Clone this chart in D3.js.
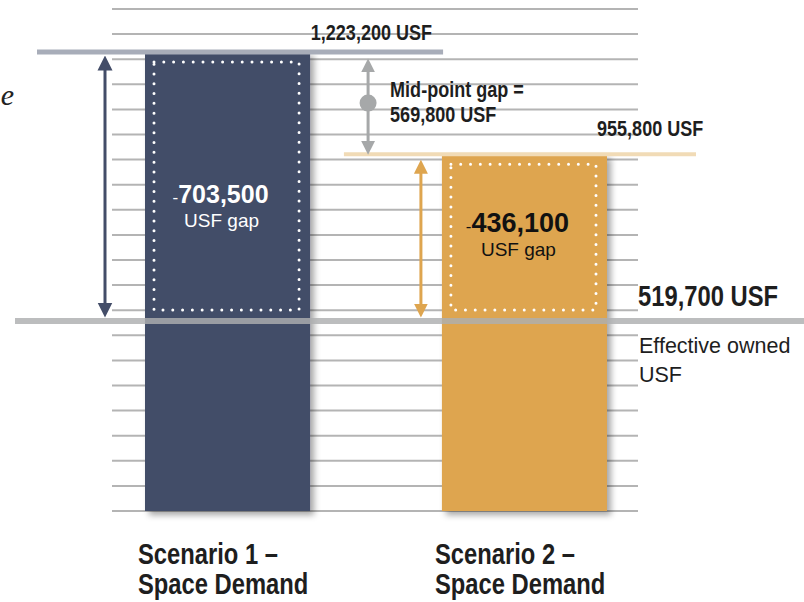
<!DOCTYPE html>
<html>
<head>
<meta charset="utf-8">
<script src="https://cdn.jsdelivr.net/npm/d3@7"></script>
<style>
body { margin: 0; background: #fff; }
svg { display: block; }
.narrow { font-family: "Liberation Sans", Arial, sans-serif; font-weight: bold; fill: #1e1e1e; }
.plain { font-family: "Liberation Sans", Arial, sans-serif; }
</style>
</head>
<body>
<script>
// SVG size
var width = 804,
	height = 602;

// Data
var scenarios = ["Scenario 1", "Scenario 2"];
var scenarioTitles = [["Scenario 1 –", "Space Demand"], ["Scenario 2 –", "Space Demand"]];
var demandUSF = [1223200, 955800];
var gapUSF = [-703500, -436100];
var ownedUSF = 519700;
var midpointGapUSF = 569800;
var ownedNote = ["Effective owned", "USF"];
var barColors = ["#434d68", "#dea54f"];
var gapTextColors = ["#ffffff", "#111111"];

var fmt = d3.format(",");

var svg = d3.select("body").append("svg")
	.attr("width", width)
	.attr("height", height);

var defs = svg.append("defs");

// soft drop shadow for bars
var shadow = defs.append("filter")
	.attr("id", "shadow")
	.attr("x", "-10%").attr("y", "-10%")
	.attr("width", "130%").attr("height", "130%");
shadow.append("feDropShadow")
	.attr("dx", 4).attr("dy", 4)
	.attr("stdDeviation", 3)
	.attr("flood-color", "#000")
	.attr("flood-opacity", 0.35);

// Scales
var x = d3.scaleBand()
	.domain(scenarios)
	.range([145, 607])
	.paddingInner(0.444)
	.paddingOuter(0);

var y = d3.scaleLinear()
	.domain([0, ownedUSF, demandUSF[0]])
	.range([511, 321, 52]);

var bw = x.bandwidth();

// condensed bold text (no narrow font installed, so squeeze it)
function narrowText(xPos, yPos, size, lines, anchor, lineHeight) {
	var g = svg.append("g")
		.attr("transform", "translate(" + xPos + "," + yPos + ") scale(0.82,1)");
	var t = g.append("text")
		.attr("class", "narrow")
		.attr("font-size", size)
		.attr("text-anchor", anchor || "start");
	lines.forEach(function(line, k) {
		t.append("tspan").attr("x", 0).attr("y", k * (lineHeight || 0)).text(line);
	});
	return t;
}

// ruled background lines
svg.append("g")
	.attr("class", "rules")
	.selectAll("line")
	.data(d3.range(21))
	.enter()
	.append("line")
	.attr("x1", 112)
	.attr("x2", 638)
	.attr("y1", function(i) { return 9 + i * 25.1; })
	.attr("y2", function(i) { return 9 + i * 25.1; })
	.attr("stroke", "#b4b4b4")
	.attr("stroke-width", 2);

// Bars
svg.selectAll("rect.bar")
	.data(scenarios)
	.enter()
	.append("rect")
	.attr("class", "bar")
	.attr("x", function(d) { return x(d); })
	.attr("y", function(d, i) { return y(demandUSF[i]); })
	.attr("width", bw)
	.attr("height", function(d, i) { return y(0) - y(demandUSF[i]); })
	.attr("fill", function(d, i) { return barColors[i]; })
	.attr("filter", "url(#shadow)");

// dotted gap boxes
svg.selectAll("rect.gapbox")
	.data(scenarios)
	.enter()
	.append("rect")
	.attr("class", "gapbox")
	.attr("x", function(d) { return x(d) + 9; })
	.attr("y", function(d, i) { return y(demandUSF[i]) + 10; })
	.attr("width", bw - 20)
	.attr("height", function(d, i) { return y(ownedUSF) - y(demandUSF[i]) - 21; })
	.attr("fill", "none")
	.attr("stroke", "#fff")
	.attr("stroke-width", 3)
	.attr("stroke-linecap", "round")
	.attr("stroke-dasharray", "0 9.8");

// owned line
svg.append("line")
	.attr("x1", 15)
	.attr("x2", width)
	.attr("y1", y(ownedUSF))
	.attr("y2", y(ownedUSF))
	.attr("stroke", "#adafb0")
	.attr("stroke-opacity", 0.82)
	.attr("stroke-width", 6);

// demand level lines
var lineExtent = [[-108, 133], [-98, 89]];
var lineColors = ["#a8adb9", "#f1dbb6"];
svg.selectAll("line.demand")
	.data(scenarios)
	.enter()
	.append("line")
	.attr("class", "demand")
	.attr("x1", function(d, i) { return x(d) + lineExtent[i][0]; })
	.attr("x2", function(d, i) { return x(d) + bw + lineExtent[i][1]; })
	.attr("y1", function(d, i) { return y(demandUSF[i]); })
	.attr("y2", function(d, i) { return y(demandUSF[i]); })
	.attr("stroke", function(d, i) { return lineColors[i]; })
	.attr("stroke-width", function(d, i) { return i === 0 ? 5 : 4; });

// arrow heads
function addMarker(id, color, w, h) {
	defs.append("marker")
		.attr("id", id)
		.attr("viewBox", "0 0 10 10")
		.attr("refX", 1)
		.attr("refY", 5)
		.attr("markerUnits", "userSpaceOnUse")
		.attr("markerWidth", h)
		.attr("markerHeight", w)
		.attr("orient", "auto-start-reverse")
		.append("path")
		.attr("d", "M0,0 L10,5 L0,10 Z")
		.attr("fill", color);
}
addMarker("head-navy", "#434d68", 16, 15);
addMarker("head-gray", "#a6a8a9", 15, 14);
addMarker("head-orange", "#dea54f", 15, 14);

function doubleArrow(xPos, top, bottom, color, marker, head) {
	svg.append("line")
		.attr("x1", xPos).attr("x2", xPos)
		.attr("y1", top + head).attr("y2", bottom - head)
		.attr("stroke", color)
		.attr("stroke-width", 3)
		.attr("marker-start", "url(#" + marker + ")")
		.attr("marker-end", "url(#" + marker + ")");
}

var s1 = scenarios[0], s2 = scenarios[1];
doubleArrow(x(s1) - 40, y(demandUSF[0]) + 3, y(ownedUSF) - 3, "#434d68", "head-navy", 14);
doubleArrow(x(s1) + bw + 58, y(demandUSF[0]) + 6, y(demandUSF[1]) + 1, "#a6a8a9", "head-gray", 13);
doubleArrow(x(s2) - 21, y(demandUSF[1]) + 5, y(ownedUSF) - 3, "#dea54f", "head-orange", 13);

var midY = (y(demandUSF[0]) + y(demandUSF[1])) / 2;
svg.append("circle")
	.attr("cx", x(s1) + bw + 58)
	.attr("cy", midY)
	.attr("r", 8.5)
	.attr("fill", "#a6a8a9");

// mid-point gap text
narrowText(x(s1) + bw + 80, midY - 6, 22,
	["Mid-point gap =", fmt(midpointGapUSF) + " USF"], "start", 25);

// demand value labels
var demandAnchor = ["end", "start"];
var demandDx = [122, -10];
var demandDy = [-12, -18];
scenarios.forEach(function(d, i) {
	narrowText(x(d) + bw + demandDx[i], y(demandUSF[i]) + demandDy[i], 22,
		[fmt(demandUSF[i]) + " USF"], demandAnchor[i]);
});

// gap labels inside bars
var gapDy = [151, 78];
var gapSize = [25, 27];
svg.selectAll("text.gapValue")
	.data(scenarios)
	.enter()
	.append("text")
	.attr("class", "plain gapValue")
	.attr("text-anchor", "middle")
	.attr("x", function(d) { return x(d) + bw / 2 - 7; })
	.attr("y", function(d, i) { return y(demandUSF[i]) + gapDy[i]; })
	.attr("fill", function(d, i) { return gapTextColors[i]; })
	.each(function(d, i) {
		var t = d3.select(this);
		t.append("tspan").attr("font-size", 17).text("-");
		t.append("tspan").attr("font-size", gapSize[i]).attr("font-weight", "bold")
			.text(fmt(Math.abs(gapUSF[i])));
	});

svg.selectAll("text.gapUnit")
	.data(scenarios)
	.enter()
	.append("text")
	.attr("class", "plain gapUnit")
	.attr("text-anchor", "middle")
	.attr("font-size", 19)
	.attr("x", function(d) { return x(d) + bw / 2 - 6; })
	.attr("y", function(d, i) { return y(demandUSF[i]) + gapDy[i] + 24; })
	.attr("fill", function(d, i) { return gapTextColors[i]; })
	.text("USF gap");

// owned label
narrowText(x(s2) + bw + 31, y(ownedUSF) - 15, 29, [fmt(ownedUSF) + " USF"]);

var note = svg.append("text")
	.attr("class", "plain")
	.attr("font-size", 21.5)
	.attr("fill", "#1e1e1e");
ownedNote.forEach(function(line, k) {
	note.append("tspan")
		.attr("x", x(s2) + bw + 32)
		.attr("y", y(ownedUSF) + 32 + k * 29)
		.text(line);
});

// scenario titles
scenarios.forEach(function(d, i) {
	narrowText(x(d) - 7, 564, 29, scenarioTitles[i], "start", 30);
});

// cut-off italic text at the left edge
svg.append("text")
	.attr("x", 14)
	.attr("y", 105)
	.attr("text-anchor", "end")
	.attr("font-family", "Liberation Serif, serif")
	.attr("font-style", "italic")
	.attr("font-size", 30)
	.attr("fill", "#222")
	.text("e");
</script>
</body>
</html>
